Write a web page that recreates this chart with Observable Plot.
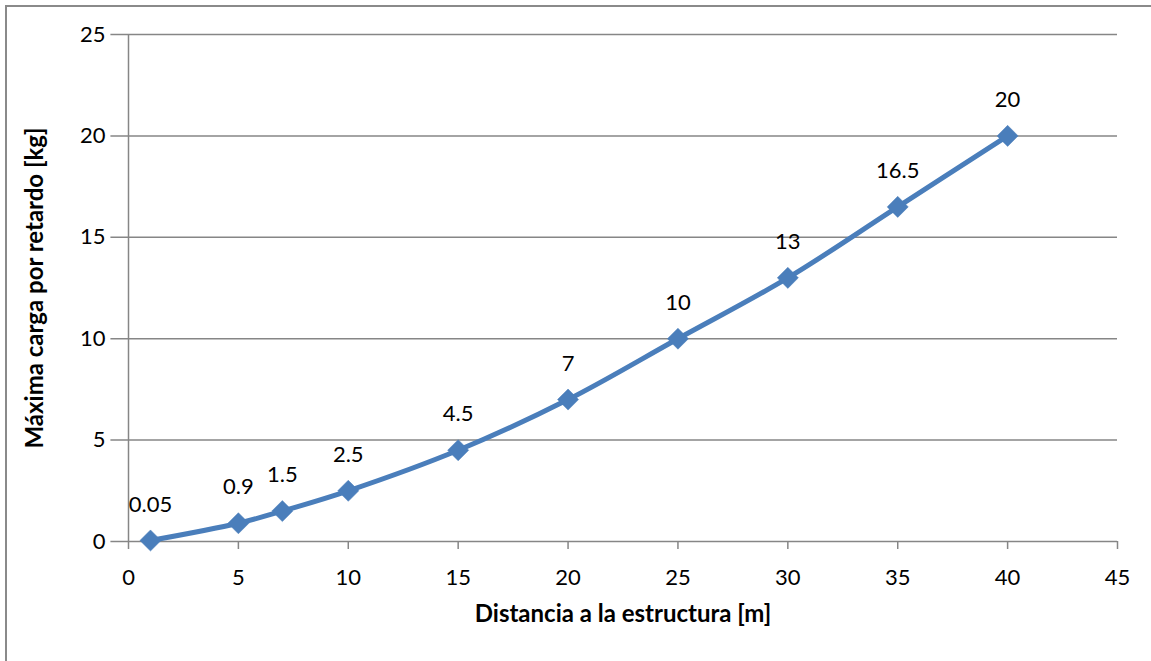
<!DOCTYPE html>
<html>
<head>
<meta charset="utf-8">
<script src="https://cdn.jsdelivr.net/npm/d3@7"></script>
<script src="https://cdn.jsdelivr.net/npm/@observablehq/plot@0.6"></script>
<style>
  html, body { margin: 0; padding: 0; background: #fff; }
  #wrap { position: relative; width: 1151px; height: 661px; overflow: hidden; }
  #frame { position: absolute; left: 5px; top: 5px; width: 1200px; height: 700px; border-left: 2px solid #8a8a8a; border-top: 2px solid #8a8a8a; pointer-events: none; }
  svg { font-family: Lato, "Open Sans", sans-serif; }
</style>
</head>
<body>
<div id="wrap"><div id="frame"></div></div>
<script>
const distances = [1, 5, 7, 10, 15, 20, 25, 30, 35, 40];
const loads = [0.05, 0.9, 1.5, 2.5, 4.5, 7, 10, 13, 16.5, 20];
const labels = ["0.05", "0.9", "1.5", "2.5", "4.5", "7", "10", "13", "16.5", "20"];
const xTicks = [0, 5, 10, 15, 20, 25, 30, 35, 40, 45];
const yTicks = [0, 5, 10, 15, 20, 25];
const xTitle = "Distancia a la estructura [m]";
const yTitle = "Máxima carga por retardo [kg]";

const data = distances.map((d, i) => ({x: d, y: loads[i], label: labels[i]}));
const grid = "#868686";
const blue = "#4a7ebb";
const fs = 22;
const tfs = 24;

const chart = Plot.plot({
  width: 1151,
  height: 661,
  marginLeft: 128,
  marginRight: 34,
  marginTop: 34,
  marginBottom: 120,
  style: {fontFamily: "Lato, 'Open Sans', sans-serif", fontSize: fs + "px", background: "transparent"},
  x: {domain: [0, 45]},
  y: {domain: [0, 25]},
  marks: [
    Plot.ruleY(yTicks, {x1: -0.8, x2: 45, stroke: grid, strokeWidth: 1.5}),
    Plot.ruleX([0], {y1: 0, y2: 25, stroke: grid, strokeWidth: 1.5}),
    Plot.axisX({ticks: xTicks, tickSize: 8, tickPadding: 20, stroke: grid, strokeWidth: 1.5, fill: "#000", fontSize: fs, label: null}),
    Plot.axisY({ticks: yTicks, tickSize: 0, tickPadding: 23, fill: "#000", fontSize: fs, label: null}),
    Plot.line(data, {x: "x", y: "y", stroke: blue, strokeWidth: 5, curve: "catmull-rom"}),
    Plot.dot(data, {x: "x", y: "y", symbol: "diamond2", r: 9.5, fill: blue, stroke: blue, strokeWidth: 0.5}),
    Plot.text(data, {x: "x", y: "y", text: "label", dy: -36, fontSize: fs, fill: "#000"}),
    Plot.text([xTitle], {frameAnchor: "bottom", dy: 80, fontSize: tfs, fontWeight: "bold", fill: "#000"}),
    Plot.text([yTitle], {frameAnchor: "left", textAnchor: "middle", dx: -93, rotate: -90, fontSize: tfs, fontWeight: "bold", fill: "#000"})
  ]
});
document.getElementById("wrap").prepend(chart);
</script>
</body>
</html>
